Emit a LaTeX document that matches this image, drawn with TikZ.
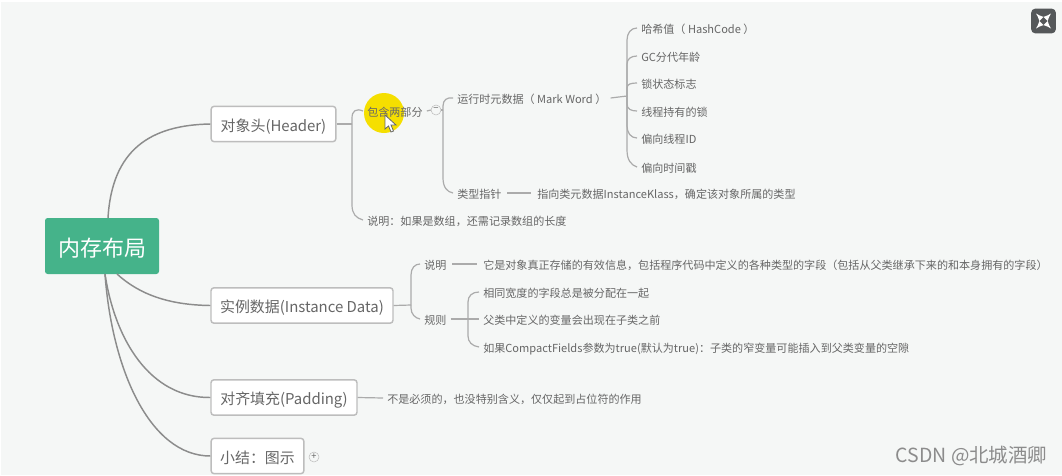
\documentclass[tikz,border=0pt]{standalone}
\usepackage{fontspec}
\setmainfont{Noto Sans CJK SC}
\definecolor{pagebg}{HTML}{F5F7F6}
\definecolor{rootgreen}{HTML}{45B38A}
\definecolor{boxline}{HTML}{BDBDBD}
\definecolor{rootline}{HTML}{8C8C8C}
\definecolor{leafline}{HTML}{ABABAB}
\definecolor{inktext}{HTML}{666666}
\definecolor{spotyellow}{HTML}{F5DF00}
\definecolor{iconfill}{HTML}{55585A}
\tikzset{
  rootbox/.style={fill=rootgreen,rounded corners=2pt,text=white,minimum width=85.5pt,minimum height=42pt,inner sep=0pt,text height=17.5pt,text depth=2pt,font=\fontsize{16.5}{20}\selectfont},
  topicbox/.style={draw=boxline,fill=white,line width=1.1pt,rounded corners=2.2pt,text=inktext,minimum height=26.5pt,inner sep=0pt,text height=12.5pt,text depth=2pt,font=\fontsize{11.2}{14}\selectfont},
  leaf/.style={anchor=west,text=inktext,inner xsep=3pt,inner ysep=0pt,text height=9.3pt,text depth=1.6pt,font=\fontsize{8.3}{10}\selectfont},
  toggle/.style={circle,draw=boxline,text=inktext,minimum size=7.5pt,inner sep=0pt,font=\fontsize{7}{7}\selectfont},
  rootedge/.style={draw=rootline,line width=1.1pt},
  branch/.style={draw=leafline,line width=0.9pt},
  stub/.style={branch,shorten <=1.2pt,shorten >=1.2pt}
}
\begin{document}
\begin{tikzpicture}[x=0.75pt,y=0.75pt,yscale=-1,xscale=1]
\useasboundingbox (0,0) rectangle (1062,475);
\fill [white] (0,0) rectangle (1062,475);
\fill [pagebg] (1,2) rectangle (1062,475);

% Attach points
\coordinate (rootup) at (108,218);
\coordinate (rootdown) at (105,274);
\coordinate (rootright) at (117,274);
\coordinate (hdrfork) at (352,124);
\coordinate (partsfork) at (443,110);
\coordinate (markfork) at (627,96);
\coordinate (instfork) at (411,305);
\coordinate (rulefork) at (468,319);

% Highlight under the text
\node (spot) [circle,fill=spotyellow,minimum size=30pt,inner sep=0pt] at (384,113) {};

% Topic boxes
\draw (102,246) node (root) [rootbox] {内存布局};
\draw (273.5,124) node (hdr) [topicbox,minimum width=93.5pt] {对象头(Header)};
\draw (302,305.5) node (inst) [topicbox,minimum width=136.5pt] {实例数据(Instance Data)};
\draw (284,397.5) node (pad) [topicbox,minimum width=109.5pt] {对齐填充(Padding)};
\draw (257.5,456) node (sum) [topicbox,minimum width=69.5pt] {小结：图示};
\draw (314,457) node (sumplus) [toggle] {+};

% Text Node
\draw (363,111) node (parts) [leaf] {包含两部分};
\draw (363,220) node (hdrnote) [leaf] {说明：如果是数组，还需记录数组的长度};
\draw (436,110) node (partsminus) [toggle] {−};
\draw (453,98) node (mark) [leaf] {运行时元数据（ Mark Word ）};
\draw (453,193) node (klass) [leaf] {类型指针};
\draw (533,193) node (klassnote) [leaf] {指向类元数据InstanceKlass，确定该对象所属的类型};
\draw (637,28) node (hash) [leaf] {哈希值（ HashCode ）};
\draw (637,56) node (age) [leaf] {GC分代年龄};
\draw (637,83) node (lock) [leaf] {锁状态标志};
\draw (637,111) node (owner) [leaf] {线程持有的锁};
\draw (637,138) node (thread) [leaf] {偏向线程ID};
\draw (637,167) node (stamp) [leaf] {偏向时间戳};
\draw (420,264) node (instnote) [leaf] {说明};
\draw (479,264) node (instinfo) [leaf] {它是对象真正存储的有效信息，包括程序代码中定义的各种类型的字段（包括从父类继承下来的和本身拥有的字段）};
\draw (420,319) node (rules) [leaf] {规则};
\draw (479,292) node (ruleone) [leaf] {相同宽度的字段总是被分配在一起};
\draw (479,319) node (ruletwo) [leaf] {父类中定义的变量会出现在子类之前};
\draw (479,347) node (rulethree) [leaf] {如果CompactFields参数为true(默认为true)：子类的窄变量可能插入到父类变量的空隙};
\draw (383,398) node (padnote) [leaf] {不是必须的，也没特别含义，仅仅起到占位符的作用};

% Root edges
\draw [rootedge] (rootup) .. controls (112,150) and (150,125) .. (hdr.west);
\draw [rootedge] (rootright) .. controls (140,295) and (170,305) .. (inst.west);
\draw [rootedge] (rootdown) .. controls (115,340) and (150,398) .. (pad.west);
\draw [rootedge] (rootdown) .. controls (112,370) and (150,456) .. (sum.west);

% Header branches
\draw [branch] (hdr.east) -- (hdrfork);
\draw [branch] (hdrfork) -- (352,118) .. controls (352,111) and (356,108) .. (parts.west);
\draw [branch] (hdrfork) -- (352,205) .. controls (352,214) and (356,218) .. (hdrnote.west);
\draw [branch] (parts.east) -- (partsminus.west);
\draw [branch] (partsminus.east) -- (partsfork);
\draw [branch] (partsfork) -- (443,106) .. controls (443,100) and (447,97) .. (mark.west);
\draw [branch] (partsfork) -- (443,178) .. controls (443,187) and (447,192) .. (klass.west);
\draw [stub] (klass.east) -- (klassnote.west);

% Mark Word branches
\draw [branch] (mark.east) -- (markfork);
\draw [branch] (markfork) -- (627,40) .. controls (627,33) and (631,28) .. (hash.west);
\draw [branch] (markfork) -- (627,64) .. controls (627,59) and (631,56) .. (age.west);
\draw [branch] (markfork) -- (627,88) .. controls (627,84) and (631,83) .. (lock.west);
\draw [branch] (markfork) -- (627,104) .. controls (627,109) and (631,111) .. (owner.west);
\draw [branch] (markfork) -- (627,126) .. controls (627,133) and (631,138) .. (thread.west);
\draw [branch] (markfork) -- (627,150) .. controls (627,160) and (631,165) .. (stamp.west);

% Instance Data branches
\draw [branch] (inst.east) -- (instfork);
\draw [branch] (instfork) -- (411,275) .. controls (411,268) and (415,264) .. (instnote.west);
\draw [branch] (instfork) -- (411,308) .. controls (411,314) and (415,318) .. (rules.west);
\draw [stub] (instnote.east) -- (instinfo.west);
\draw [branch] (rules.east) -- (ruletwo.west);
\draw [branch] (rulefork) -- (468,302) .. controls (468,296) and (472,292) .. (ruleone.west);
\draw [branch] (rulefork) -- (468,336) .. controls (468,342) and (472,346) .. (rulethree.west);

% Padding branch
\draw [branch] (pad.east) -- (padnote.west);

% Pointer
\draw [fill=white,draw=inktext,line width=0.6pt] (385,115) -- (385,129) -- (388.5,126) -- (391,132) -- (393.5,131) -- (391,125) -- (396,125) -- cycle;

% Corner icon
\node (icon) [fill=iconfill,rounded corners=3pt,minimum size=18.5pt,inner sep=0pt] at (1043.5,21) {};
\draw [white,line width=1pt,-latex] (1040,17.5) -- (1036,13.5);
\draw [white,line width=1pt,-latex] (1047,17.5) -- (1051,13.5);
\draw [white,line width=1pt,-latex] (1040,24.5) -- (1036,28.5);
\draw [white,line width=1pt,-latex] (1047,24.5) -- (1051,28.5);

% Watermark
\draw (971.5,456) node (markcsdn) [text=gray!90,inner sep=0pt,font=\fontsize{14.6}{17}\selectfont] {CSDN @北城酒卿};

\end{tikzpicture}
\end{document}
